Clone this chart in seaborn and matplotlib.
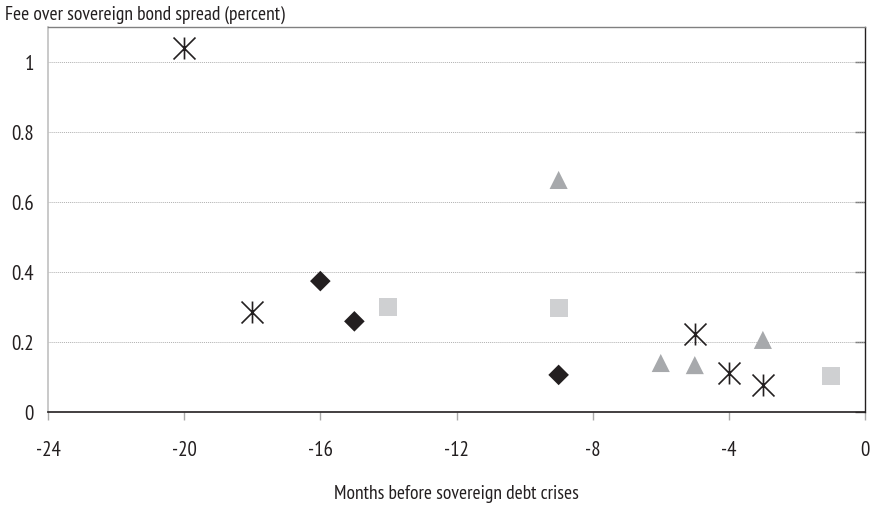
import matplotlib
matplotlib.use("Agg")
import matplotlib.pyplot as plt
import seaborn as sns
import pandas as pd
from matplotlib.ticker import FuncFormatter
from matplotlib.path import Path
from matplotlib.markers import MarkerStyle

# Data
star_x = [-20, -18, -5, -4, -3]
star_y = [1.04, 0.285, 0.223, 0.111, 0.077]
diamond_x = [-16, -15, -9]
diamond_y = [0.374, 0.259, 0.106]
square_x = [-14, -9, -1]
square_y = [0.300, 0.298, 0.103]
triangle_x = [-9, -6, -5, -3]
triangle_y = [0.663, 0.140, 0.134, 0.206]

x_ticks = [-24, -20, -16, -12, -8, -4, 0]
y_ticks = [0, 0.2, 0.4, 0.6, 0.8, 1.0]

sns.set_theme(style="white")
plt.rcParams['font.family'] = ['PT Sans Narrow', 'DejaVu Sans']

FS = 14
TFS = 15
TXT = "#231f20"

fig = plt.figure(figsize=(8.76, 5.11), dpi=100)
ax = fig.add_axes([48/876, 99/511, (865-48)/876, (412-27)/511])

df_star = pd.DataFrame({"x": star_x, "y": star_y})
df_dia = pd.DataFrame({"x": diamond_x, "y": diamond_y})
df_sq = pd.DataFrame({"x": square_x, "y": square_y})
df_tri = pd.DataFrame({"x": triangle_x, "y": triangle_y})

star_path = Path([(-1, -1), (1, 1), (-1, 1), (1, -1), (0, -1), (0, 1)],
                 [Path.MOVETO, Path.LINETO, Path.MOVETO, Path.LINETO, Path.MOVETO, Path.LINETO])
star_marker = MarkerStyle(star_path)

sns.scatterplot(data=df_sq, x="x", y="y", marker="s", s=170, color="#cfd0d2",
                edgecolor="none", ax=ax, zorder=3)
sns.scatterplot(data=df_tri, x="x", y="y", marker="^", s=170, color="#a7a9ac",
                edgecolor="none", ax=ax, zorder=3)
sns.scatterplot(data=df_dia, x="x", y="y", marker="D", s=110, color="#231f20",
                edgecolor="none", ax=ax, zorder=3)
sns.scatterplot(data=df_star, x="x", y="y", marker=star_marker, s=250, color="#231f20",
                edgecolor="#231f20", linewidth=1.2, ax=ax, zorder=4)

ax.set_xlim(-24, 0)
ax.set_ylim(0, 1.1)
ax.set_xticks(x_ticks)
ax.set_yticks(y_ticks)
ax.yaxis.set_major_formatter(FuncFormatter(lambda v, p: f"{v:g}"))
ax.xaxis.set_major_formatter(FuncFormatter(lambda v, p: f"{v:g}"))

for yv in y_ticks[1:]:
    ax.axhline(yv, color="#b0b0b0", linewidth=0.7, linestyle=(0, (1, 1)), zorder=1)

ax.spines['left'].set_color("#c0c0c0")
ax.spines['left'].set_linewidth(1.2)
ax.spines['top'].set_color("#808080")
ax.spines['top'].set_linewidth(1.0)
ax.spines['right'].set_color("#231f20")
ax.spines['right'].set_linewidth(1.0)
ax.spines['bottom'].set_color("#231f20")
ax.spines['bottom'].set_linewidth(1.2)

ax.tick_params(axis='x', bottom=True, direction='out', length=6, width=1.0,
               color="#aaaaaa", labelsize=TFS, pad=15, labelcolor=TXT)
ax.tick_params(axis='y', left=False, right=True, direction='in', length=7, width=1.0,
               color="#606060", labelsize=TFS, pad=10, labelcolor=TXT)

ax.set_xlabel("Months before sovereign debt crises", fontsize=FS, labelpad=18, color=TXT)
ax.set_ylabel("")
fig.text(5/876, 1 - 6/511, "Fee over sovereign bond spread (percent)", fontsize=FS,
         ha="left", va="top", color=TXT)

fig.savefig("out.png", dpi=100)
